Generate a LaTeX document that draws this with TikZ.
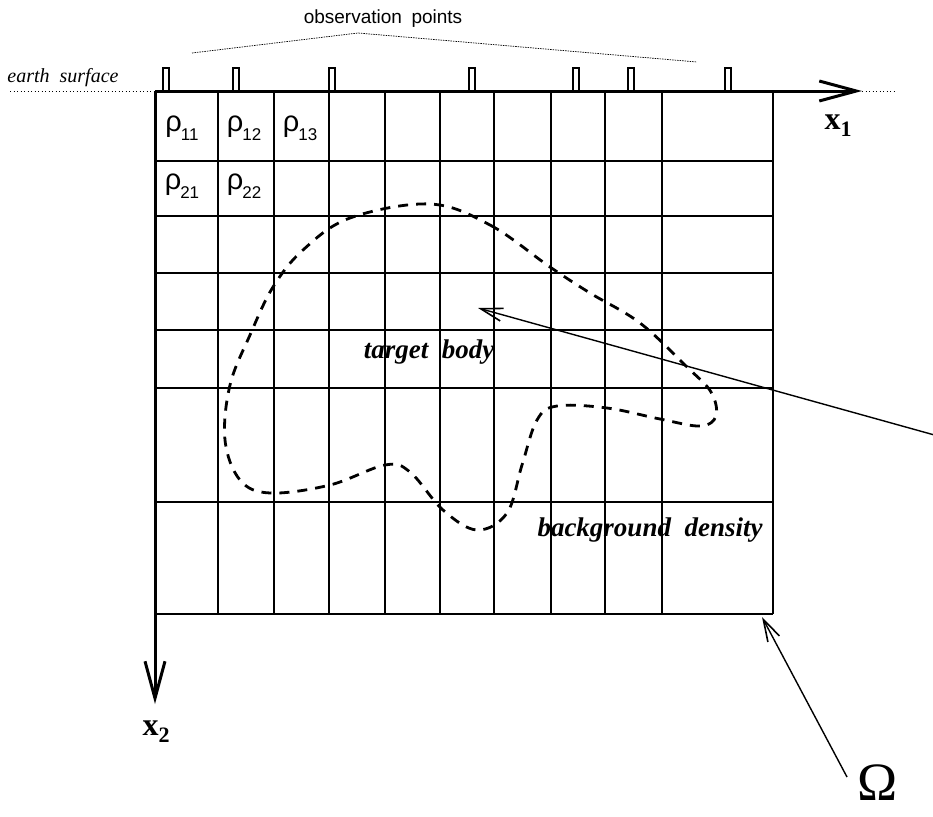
\documentclass[tikz,border=0pt]{standalone}
\usepackage{fontspec}
\setmainfont{Liberation Serif}
\setsansfont{Liberation Sans}
\usetikzlibrary{arrows.meta,positioning}

\newcommand{\rhosub}[1]{\textsf{\fontsize{29}{30}\selectfont ρ\kern-1pt\raisebox{-9pt}{\fontsize{17}{18}\selectfont #1}}}

\tikzset{
  gridline/.style={line width=1.6pt},
  axisline/.style={line width=3pt,-{Straight Barb[length=37pt,width=20pt,line width=3pt]}},
  thinarrow/.style={line width=1.4pt,-{Straight Barb[length=22pt,width=13pt,line width=1.6pt]}},
  surfdots/.style={line width=0.9pt,dash pattern=on 1pt off 2.5pt},
  obsbox/.style={line width=2pt},
  bodyline/.style={line width=2.8pt,dash pattern=on 10pt off 8pt},
  tag/.style={font=\fontsize{27}{30}\selectfont\bfseries\itshape},
}

\begin{document}
\begin{tikzpicture}[x=1pt,y=-1pt]
  \useasboundingbox (0,0) rectangle (933,816);
  \foreach \x in {218,274,329,385,440,494,551,605,662,773}
    \draw[gridline] (\x,91) -- (\x,614);
  \foreach \y in {161,216,273,330,388,502,614}
    \draw[gridline] (155,\y) -- (773,\y);
  \coordinate (origin) at (155,91);
  \coordinate (xend) at (862,91);
  \coordinate (yend) at (155,704);
  \coordinate (corner) at (762,617);
  \draw[axisline] (origin) -- (xend);
  \draw[axisline] (origin) -- (yend);
  \draw[surfdots] (10,91) -- (origin);
  \draw[surfdots] (xend) -- (897,91);
  \foreach \x in {166,236,332,472,576,631,728}
    \draw[obsbox] (\x-3,90) |- (\x+3,68) -- (\x+3,90);

  \node[font=\fontsize{20}{22}\selectfont\itshape] (surf) at (63,78) {earth\enspace surface};
  \node[font=\sffamily\fontsize{19}{22}\selectfont] (obs) at (383,19) {observation\enspace points};
  \coordinate (obsl) at (192,53);
  \coordinate (obsm) at (358,33);
  \coordinate (obsr) at (697,62);
  \draw[surfdots,line width=0.7pt,dash pattern=on 1.5pt off 1pt] (obsl) -- (obsm) -- (obsr);

  \node[font=\fontsize{32}{34}\selectfont\bfseries] (xone) at (838,126) {x\raisebox{-7pt}{\fontsize{22}{24}\selectfont 1}};
  \node[font=\fontsize{32}{34}\selectfont\bfseries] (xtwo) at (156,732) {x\raisebox{-7pt}{\fontsize{22}{24}\selectfont 2}};

  \node (r11) at (182,128) {\rhosub{11}};
  \node (r12) at (244,128) {\rhosub{12}};
  \node (r13) at (300,128) {\rhosub{13}};
  \node (r21) at (182,186) {\rhosub{21}};
  \node (r22) at (244,186) {\rhosub{22}};

  \draw[bodyline] plot[smooth cycle,tension=0.6] coordinates
    {(430,204)(490,225)(550,267)(590,293)(640,323)(687,367)(711,392)
    (716,416)(700,426)(660,419)(607,408)(557,406)(537,420)(522,465)
    (507,513)(477,530)(443,510)(410,472)(385,465)(330,485)(270,493)
    (240,480)(225,440)(230,385)(250,335)(273,287)(303,250)(350,218)};

  \node[tag] (target) at (429,352) {target\enspace body};
  \node[tag] (backgr) at (650,530) {background\enspace density};
  \coordinate (tstart) at (938,436);
  \coordinate (tend) at (478,308);
  \draw[thinarrow] (tstart) -- (tend);

  \node[font=\fontsize{54}{56}\selectfont] (omega) at (878,783) {Ω};
  \coordinate (ostart) at (847,777);
  \draw[thinarrow] (ostart) -- (corner);
\end{tikzpicture}
\end{document}
